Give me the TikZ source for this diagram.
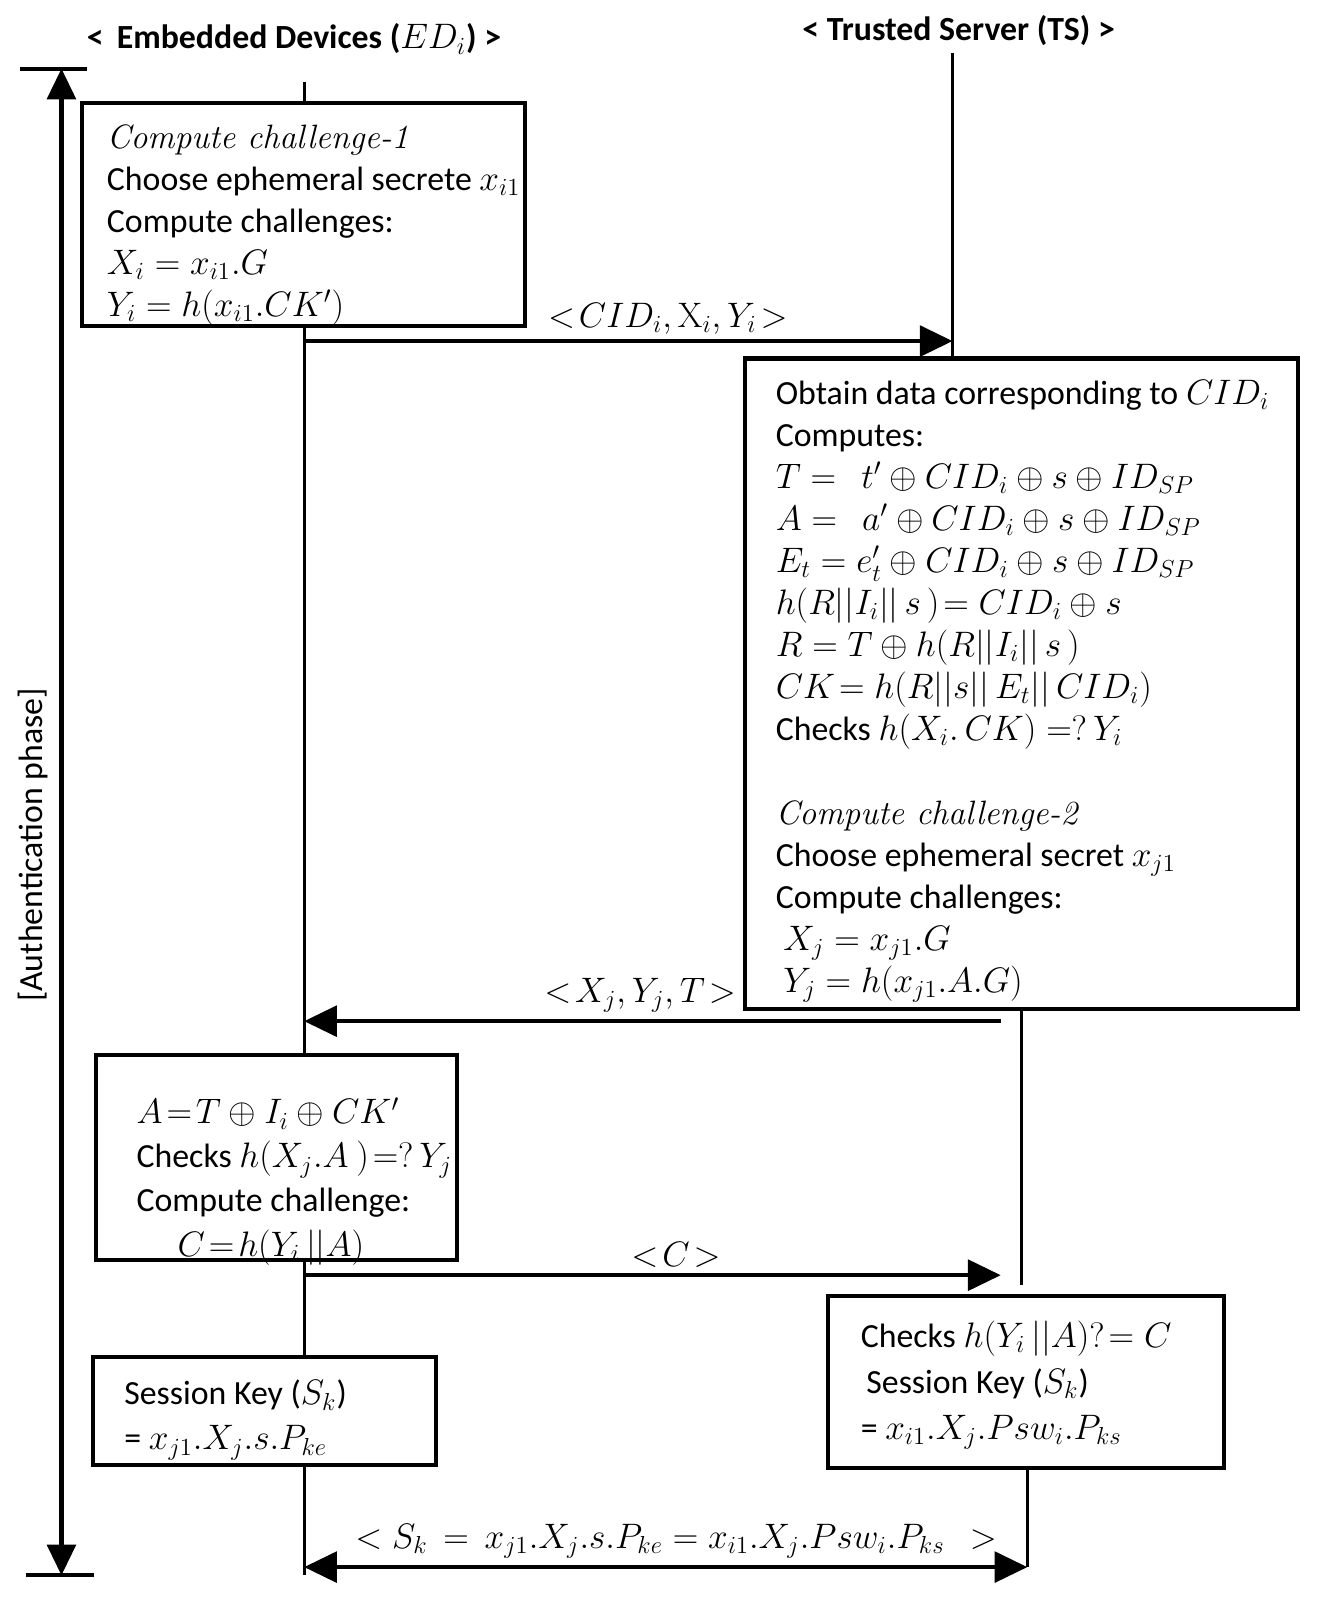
\documentclass[tikz,border=0pt]{standalone}
\usepackage[no-math]{fontspec}
\setmainfont{Carlito}
\usetikzlibrary{arrows.meta,calc,fit}
\newcommand\bxf[1]{\fontsize{16.5}{#1}\selectfont\lineskiplimit=-30pt\lineskip=0pt}
\newcommand\hdit[1]{{\fontfamily{lmr}\itshape #1}}
\begin{document}
\begin{tikzpicture}[x=0.5pt,y=-0.5pt,
  box/.style={draw,line width=2pt,inner sep=0pt},
  txt/.style={font=\bxf{#1},align=left,inner sep=0pt,anchor=north west},
  txt/.default=20.5pt,
  life/.style={line width=1.5pt},
  msg/.style={line width=2pt,-{Triangle[length=16pt,width=15pt]}},
  lbl/.style={font=\bxf{20pt},inner sep=0pt},
  hdr/.style={font=\bfseries\fontsize{16.5}{20}\selectfont,inner sep=0pt}]
\useasboundingbox (0,0) rectangle (1287,1568);

% headers
\node[hdr] (hED) at (287,38) {<\, Embedded Devices ($ED_i$) >};
\node[hdr] (hTS) at (936,30) {< Trusted Server (TS) >};

% boxes
\node[box,fit={(80,101) (513,318)}] (b1) {};
\node[box,fit={(727,350) (1267,985)}] (b2) {};
\node[box,fit={(94,1030) (446,1230)}] (b3) {};
\node[box,fit={(91,1325) (426,1430)}] (b4) {};
\node[box,fit={(808,1265) (1195,1433)}] (b5) {};

% box texts
\node[txt] (t1) at (104,121) {\hdit{Compute challenge-1}\\
Choose ephemeral secrete $x_{i1}$\\
Compute challenges:\\
$X_i = x_{i1}.G$\\
$Y_i = h(x_{i1}.CK')$};

\node[txt] (t2) at (757,371) {Obtain data corresponding to $CID_i$\\
Computes:\\
$T =\ \ t'\oplus CID_i \oplus s \oplus ID_{SP}$\\
$A =\ \ a' \oplus CID_i \oplus s \oplus ID_{SP}$\\
$E_t = e_t' \oplus CID_i \oplus s \oplus ID_{SP}$\\
$h(R||I_i||\, s\,)\!= CID_i \oplus s$\\
$R = T\oplus h(R||I_i||\, s\,)$\\
$CK\!= h(R||s||\, E_t||\, CID_i)$\\
Checks $h(X_i.\, CK) =?\, Y_i$\\
\mbox{}\\
\hdit{Compute challenge-2}\\
Choose ephemeral secret $x_{j1}$\\
Compute challenges:\\
\ $X_j = x_{j1}.G$\\
\ $Y_j = h(x_{j1}.A.G)$};

\node[txt=21.5pt] (t3) at (133,1071) {$A\!=\!T\oplus I_i \oplus CK'$\\
Checks $h(X_j.A\ )\!=?\, Y_j$\\
Compute challenge:\\
\hspace{20pt}$C\!=\!h(Y_i\,||A)$};

\node[txt=22pt] (t4) at (121,1347) {Session Key ($S_k$)\\
= $x_{j1}.X_j.s.P_{ke}$};

\node[txt=22.5pt] (t5) at (840,1289) {Checks $h(Y_i\,||A)?\!= C$\\
\,Session Key ($S_k$)\\
= $x_{i1}.X_j.Psw_i.P_{ks}$};

% phase bracket
\coordinate (ptop) at (60,67);
\coordinate (pbot) at (60,1538);
\draw[line width=2pt] (20,67) -- (85,67);
\draw[line width=2pt] (25,1538) -- (92,1538);
\draw[line width=2pt,{Triangle[length=15pt,width=14pt]}-{Triangle[length=15pt,width=14pt]}] (ptop) -- (pbot);
\node[rotate=90,font=\fontsize{16.5}{20}\selectfont,inner sep=0pt] (phase) at (32,825) {[Authentication phase]};

% lifelines
\coordinate (edtop) at (297,80);
\coordinate (edbot) at (297,1538);
\draw[life] (edtop) -- (edtop |- b1.north);
\draw[life] (b1.south -| edtop) -- (b3.north -| edtop);
\draw[life] (b3.south -| edtop) -- (b4.north -| edtop);
\draw[life] (b4.south -| edtop) -- (edbot);

\coordinate (tstop) at (930,52);
\draw[life] (tstop) -- (tstop |- b2.north);
\coordinate (ts2) at (997,1255);
\draw[life] (b2.south -| ts2) -- (ts2);
\coordinate (ts3) at (1003,1530);
\draw[life] (b5.south -| ts3) -- (ts3);

% messages
\coordinate (m1a) at (297,333);
\coordinate (m1b) at (930,333);
\draw[msg] (m1a) -- (m1b);
\node[lbl] (l1) at (652,311) {$<\!CID_i, \mathrm{X}_i, Y_i\!>$};

\coordinate (m2a) at (977,997);
\coordinate (m2b) at (297,997);
\draw[msg] (m2a) -- (m2b);
\node[lbl] (l2) at (625,972) {$<\!X_j, Y_j, T\!>$};

\coordinate (m3a) at (297,1245);
\coordinate (m3b) at (977,1245);
\draw[msg] (m3a) -- (m3b);
\node[lbl] (l3) at (660,1225) {$<\!C\!>$};

\coordinate (m4a) at (297,1530);
\draw[line width=2pt,{Triangle[length=16pt,width=15pt]}-{Triangle[length=16pt,width=15pt]}] (m4a) -- (ts3);
\node[lbl] (l4) at (660,1505) {$<S_k\, =\, x_{j1}.X_j.s.P_{ke} = x_{i1}.X_j.Psw_i.P_{ks}\ \ >$};
\end{tikzpicture}
\end{document}
